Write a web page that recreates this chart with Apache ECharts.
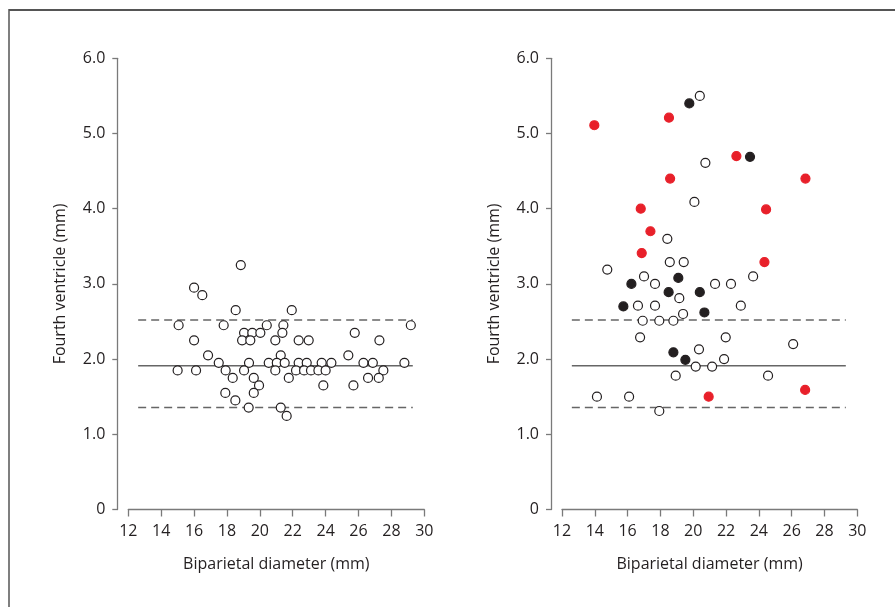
<!DOCTYPE html>
<html>
<head>
<meta charset="utf-8">
<script src="https://cdn.jsdelivr.net/npm/echarts@6/dist/echarts.min.js"></script>
<style>html,body{margin:0;padding:0;background:#fff;}#c{width:895px;height:607px;}</style>
</head>
<body>
<div id="c"></div>
<script>
// Left panel: open circles [BPD, fourth ventricle]
var leftOpen = [
  [18.84,3.25],[16.0,2.95],[16.5,2.85],[18.53,2.65],[21.94,2.65],
  [15.06,2.45],[17.8,2.45],[20.42,2.45],[21.43,2.45],[29.18,2.45],
  [19.04,2.35],[19.54,2.35],[20.03,2.35],[21.37,2.35],[25.77,2.35],
  [16.0,2.25],[18.92,2.25],[19.42,2.25],[20.94,2.25],[22.36,2.25],[22.97,2.25],[27.27,2.25],
  [16.85,2.05],[21.27,2.05],[25.38,2.05],
  [17.5,1.95],[19.34,1.95],[20.54,1.95],[21.03,1.95],[21.51,1.95],[22.36,1.95],[22.85,1.95],
  [23.76,1.95],[24.35,1.95],[26.3,1.95],[26.87,1.95],[28.79,1.95],
  [15.0,1.85],[16.12,1.85],[17.92,1.85],[19.04,1.85],[20.94,1.85],[22.2,1.85],[22.69,1.85],
  [23.11,1.85],[23.56,1.85],[24.0,1.85],[27.51,1.85],
  [18.35,1.75],[19.63,1.75],[21.76,1.75],[26.58,1.75],[27.23,1.75],
  [19.95,1.65],[23.86,1.65],[25.69,1.65],
  [17.9,1.55],[19.63,1.55],[18.51,1.45],[19.32,1.355],[21.27,1.355],[21.63,1.245]
];
// Right panel
var rightOpen = [
  [20.4,5.5],[20.74,4.61],[20.07,4.09],[18.42,3.6],[18.57,3.29],[19.42,3.29],[14.76,3.19],
  [17.0,3.10],[17.67,3.0],[21.33,3.0],[22.3,3.0],[23.65,3.1],[19.15,2.81],[16.63,2.71],
  [17.67,2.71],[22.9,2.71],[19.38,2.6],[16.92,2.51],[17.93,2.51],[18.79,2.51],[16.76,2.29],
  [21.98,2.29],[26.09,2.2],[20.35,2.13],[21.88,2.0],[20.15,1.9],[21.15,1.9],[18.93,1.78],
  [24.56,1.78],[14.13,1.5],[16.09,1.5],[17.93,1.31]
];
var rightBlack = [
  [19.76,5.40],[23.46,4.69],[19.09,3.08],[16.23,3.0],[18.5,2.89],[20.4,2.89],
  [15.74,2.70],[20.68,2.62],[18.79,2.09],[19.52,1.99]
];
var rightRed = [
  [18.52,5.21],[13.97,5.11],[22.63,4.70],[18.59,4.40],[26.84,4.40],[16.8,4.0],
  [24.44,3.99],[17.39,3.70],[16.86,3.41],[24.34,3.29],[26.82,1.59],[20.94,1.50]
];
// Reference lines: mean and limits
var refX = [12.6, 29.3];
var meanLine = 1.91;
var upperLine = 2.52;
var lowerLine = 1.355;

var FONT = 'Open Sans';
var TXT = '#231f20';
var AX = '#7a7a7a';

function mkX(idx){
  return {
    gridIndex: idx, type:'value', min:12, max:30, interval:2, offset:2,
    name:'Biparietal diameter (mm)', nameLocation:'middle', nameGap:45,
    nameTextStyle:{fontFamily:FONT,fontSize:16,color:TXT},
    axisLine:{show:true,lineStyle:{color:AX,width:1.3}},
    axisTick:{show:true,length:7,lineStyle:{color:AX,width:1.3}},
    axisLabel:{fontFamily:FONT,fontSize:16,color:TXT,margin:12},
    splitLine:{show:false}
  };
}
function mkY(idx){
  return {
    gridIndex: idx, type:'value', min:0, max:6, interval:1, offset:11,
    name:'Fourth ventricle (mm)', nameLocation:'middle', nameGap:49,
    nameTextStyle:{fontFamily:FONT,fontSize:16,color:TXT},
    axisLine:{show:true,lineStyle:{color:AX,width:1.3}},
    axisTick:{show:true,length:5,lineStyle:{color:AX,width:1.3}},
    axisLabel:{fontFamily:FONT,fontSize:16,color:TXT,margin:12,
      formatter:function(v){return v===0?'0':v.toFixed(1);}},
    splitLine:{show:false}
  };
}
function refSeries(idx){
  var mk = function(y,dash){
    return {type:'line', xAxisIndex:idx, yAxisIndex:idx, silent:true, symbol:'none', z:1,
      data:[[refX[0],y],[refX[1],y]],
      lineStyle:{color:'#666',width:1.5,type:dash?[8,5]:'solid'}};
  };
  return [mk(meanLine,false), mk(upperLine,true), mk(lowerLine,true)];
}
function scat(idx, data, fill, stroke){
  return {type:'scatter', xAxisIndex:idx, yAxisIndex:idx, data:data, symbol:'circle', symbolSize:9, z:3,
    itemStyle:{color:fill, borderColor:stroke, borderWidth:1.2, opacity:1}};
}

var chart = echarts.init(document.getElementById('c'), null, {renderer:'canvas'});
chart.setOption({
  animation:false,
  backgroundColor:'#fff',
  grid:[
    {left:128.3, right:470.7, top:58.3, bottom:97.5},
    {left:562, right:37.7, top:58.3, bottom:97.5}
  ],
  xAxis:[mkX(0), mkX(1)],
  yAxis:[mkY(0), mkY(1)],
  graphic:[
    {type:'line', shape:{x1:9, y1:10, x2:895, y2:10}, style:{stroke:'#555', lineWidth:2}},
    {type:'line', shape:{x1:9, y1:9, x2:9, y2:607}, style:{stroke:'#555', lineWidth:1.5}}
  ],
  series: [].concat(
    refSeries(0), refSeries(1),
    [scat(0, leftOpen, '#fff', TXT),
     scat(1, rightOpen, '#fff', TXT),
     scat(1, rightBlack, TXT, TXT),
     scat(1, rightRed, '#e8202a', '#e8202a')]
  )
});
</script>
</body>
</html>
